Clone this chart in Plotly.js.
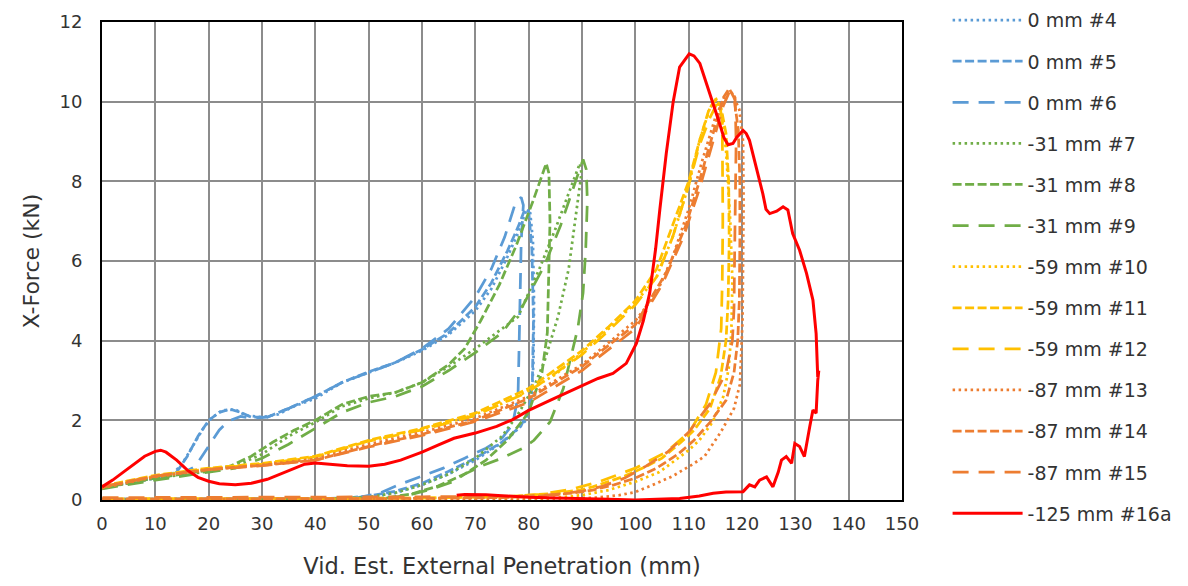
<!DOCTYPE html>
<html>
<head>
<meta charset="utf-8">
<script src="https://cdn.plot.ly/plotly-3.0.1.min.js"></script>
<style>
html,body{margin:0;padding:0;background:#fff;}
#chart{width:1188px;height:586px;}
</style>
</head>
<body>
<div id="chart"></div>
<script>
// ---- data (mm, kN) ----
const names = ["0 mm #4","0 mm #5","0 mm #6","-31 mm #7","-31 mm #8","-31 mm #9",
  "-59 mm #10","-59 mm #11","-59 mm #12","-87 mm #13","-87 mm #14","-87 mm #15","-125 mm #16a"];

const x4 = [0,5,10,13,15,17,19,20.5,22.5,25,27,30,33,36,40,45,50,55,60,65,70,73,76,78,79.5,80.3,80.8,81,80.9,80.6,79.5,77,74,70,65,60,55,50,45,30,0];
const y4 = [0.3,0.42,0.55,0.62,0.9,1.35,1.8,2.05,2.25,2.27,2.12,2.08,2.15,2.35,2.55,2.95,3.2,3.45,3.75,4.15,4.75,5.3,6.1,6.7,7.25,7.2,6.5,5,3.5,2.6,2.0,1.65,1.35,1.0,0.65,0.38,0.18,0.07,0.03,0.01,0];

const x5 = [0,5,10,14,16,18,20,22,24,26,28,31,35,40,45,50,55,60,65,70,73,76,78,79.3,80,80.6,80.9,80.7,80.2,78.5,75,70,65,60,55,50,45,0];
const y5 = [0.32,0.44,0.56,0.7,1.1,1.6,2.0,2.2,2.28,2.2,2.08,2.08,2.3,2.6,2.95,3.22,3.45,3.78,4.2,4.85,5.45,6.25,6.85,7.3,7.25,6.3,4.5,3.0,2.3,1.85,1.45,1.05,0.72,0.42,0.22,0.1,0.04,0.02];

const x6 = [0,5,10,14,17.5,20,22,23.7,26,28,31,35,40,45,50,55,60,65,70,73,75.5,77.5,78.6,79,78.6,78.3,78.2,78,77,75,72,68,64,60,56,52,48,40,0];
const y6 = [0.3,0.42,0.52,0.6,0.84,1.34,1.76,1.98,2.1,2.05,2.08,2.3,2.6,2.95,3.2,3.45,3.8,4.3,5.1,5.8,6.6,7.45,7.6,7.4,6.5,5,3.8,2.6,1.9,1.55,1.3,1.05,0.8,0.6,0.4,0.17,0.06,0.03,0.02];

const x7 = [0,10,20,25,30,35,40,45,50,55,60,65,70,75,78,82,85,87.5,89.6,89.9,89,87.5,85.5,83,81,78,75,70,65,60,55,50,40,0];
const y7 = [0.3,0.55,0.72,0.85,1.15,1.6,1.95,2.35,2.55,2.7,2.95,3.35,3.8,4.3,4.6,5.8,6.8,7.7,8.45,8.2,7.3,5.8,4.6,3.5,2.85,2.15,1.6,1.05,0.65,0.38,0.18,0.07,0.02,0];

const x8 = [0,10,20,24,28,32,36,40,45,50,55,60,65,68,71,74.5,77.7,80.8,83.3,83.8,84,83.8,83.5,82.5,80,76,72,68,63,58,53,45,0];
const y8 = [0.3,0.55,0.75,0.85,1.1,1.45,1.75,2.0,2.4,2.6,2.7,2.95,3.4,3.8,4.5,5.4,6.4,7.5,8.45,8.2,7,5.5,4.2,3.2,2.2,1.5,1.0,0.65,0.35,0.15,0.05,0.02,0];

const x9 = [0,10,20,25,30,35,40,45,50,55,60,65,70,75,79,83,86,88.5,90.2,90.8,91,90.7,90.2,89.2,88.3,86.5,84,81,78.9,75,71.4,68,65.8,62,58,54,45,0];
const y9 = [0.28,0.5,0.7,0.8,1.05,1.4,1.8,2.2,2.45,2.6,2.85,3.25,3.7,4.2,4.9,5.9,6.9,7.9,8.55,8.3,7.5,6.3,5.2,4.3,3.8,2.8,1.96,1.5,1.3,1.05,0.87,0.65,0.46,0.28,0.14,0.05,0.02,0];

const x10 = [0,5,10,15,20,25,30,35,40,45,50,55,60,65,70,75,80,85,90,95,100,104,107,110,112,114,115.2,116,117,117.8,118.2,118,117.5,116.5,114.5,112,110,107,104.5,100,95,90,85,80,60,0];
const y10 = [0.32,0.48,0.6,0.7,0.78,0.84,0.9,0.98,1.08,1.28,1.48,1.62,1.78,1.95,2.15,2.42,2.75,3.15,3.7,4.3,4.95,5.6,6.6,7.9,9.0,9.85,10.05,9.8,8.8,7.0,5.5,4.2,3.3,2.6,1.96,1.5,1.25,0.95,0.7,0.46,0.25,0.12,0.06,0.03,0.02,0.01];

const x11 = [0,10,20,30,40,50,60,70,80,90,95,100,104,107,110,112,113.8,115,116,117,117.5,117.6,117.4,117,116,114,111,108.4,105,102,98,95.8,92,89.6,85,80.2,75,60,45,0];
const y11 = [0.35,0.62,0.8,0.92,1.1,1.5,1.8,2.18,2.8,3.75,4.35,5.0,5.8,6.9,8.0,9.0,9.8,10.05,9.9,9.2,8,6.5,5,4,3.1,2.3,1.75,1.43,1.05,0.84,0.6,0.5,0.33,0.25,0.17,0.12,0.08,0.05,0.03,0.02];

const x12 = [0,10,20,30,40,50,60,70,80,90,95,100,104,107,110,112,114,115.5,116.3,116.4,116.4,116.3,116.1,115.1,113.25,110.1,105.75,100,93.25,88,82,75,60,40,0];
const y12 = [0.33,0.6,0.78,0.9,1.08,1.48,1.76,2.12,2.72,3.65,4.25,4.9,5.6,6.6,7.9,8.9,9.6,10.0,9.6,8.5,7,5.5,4.3,3.2,2.4,1.7,1.2,0.8,0.46,0.27,0.14,0.08,0.05,0.04,0.03];

const x13 = [0,10,20,30,40,50,60,70,80,90,95,100,104,107,110,112.5,115,117,118,119.5,120.2,120.3,120.2,120.1,119.6,118.5,116,113,110.8,107,104,100,97,92.8,85,0];
const y13 = [0.3,0.58,0.76,0.88,1.03,1.4,1.7,2.05,2.6,3.4,3.95,4.5,5.2,6.1,7.3,8.5,9.6,10.2,10.25,9.8,9.0,7.5,6,4.5,2.9,2.3,1.7,1.1,0.9,0.6,0.42,0.2,0.12,0.06,0.03,0.02];

const x14 = [0,10,20,30,40,50,60,70,80,90,93.25,100,105.75,109.5,112,114.5,116.5,117.6,118.5,119.3,119.6,119.6,119.5,119.2,118.5,117,114,111,108,104,100,96,92,88,82,75,60,0];
const y14 = [0.32,0.6,0.77,0.87,1.0,1.35,1.65,2.0,2.55,3.35,3.7,4.4,5.7,6.9,8.0,9.2,10.1,10.33,10.1,9.3,8,6.5,5,4,3.2,2.5,1.95,1.5,1.15,0.8,0.55,0.38,0.25,0.17,0.1,0.06,0.04,0.02];

const x15 = [0,10,20,30,40,50,60,70,80,90,93.25,100,105,109,112,114.5,116.5,117.8,118.7,118.9,118.7,118.6,118.5,118.2,117,113.9,110,106,102,98,94,90,85,80,60,40,20,0];
const y15 = [0.33,0.6,0.76,0.86,1.0,1.33,1.62,1.97,2.45,3.25,3.6,4.3,5.4,6.6,7.8,9.0,9.9,10.3,10.1,9,7.5,6,4.8,4.0,3.2,2.4,1.7,1.2,0.85,0.55,0.35,0.22,0.14,0.1,0.08,0.07,0.07,0.06];

const x16 = [0,2,4,6,8,10,11,12,14,16,18,20,22,25,28,31,34,36,38,40,43,46,50,53,56,60,63,66,70,74,77,80,84,89.6,93,95.8,98.3,100.2,101.5,102.7,103.8,104.6,105.8,107.1,108.3,110.1,111,112.1,113,114,115,115.8,116.6,117.4,118.3,119,120.2,120.8,121.4,122.7,123.9,124.5,125.2,126.5,127.7,128.6,129.5,130.8,132.1,133.3,133.9,134.2,134.4,134.2,133.9,133.3,132.7,131.7,130.8,129.9,129.3,128.3,127.4,126.8,125.8,124.6,123.3,122.4,121.4,120.2,117,114.6,112,108.3,104,100,95,90,85,80,76,72,68,66.5];
const y16 = [0.33,0.5,0.7,0.9,1.1,1.22,1.25,1.2,1.0,0.75,0.57,0.47,0.41,0.38,0.42,0.52,0.68,0.8,0.9,0.93,0.9,0.86,0.85,0.9,1.0,1.2,1.38,1.55,1.68,1.85,2.02,2.25,2.5,2.84,3.05,3.18,3.43,3.93,4.5,5.2,6.3,7.3,8.7,10.0,10.87,11.2,11.15,10.96,10.6,10.2,9.8,9.45,9.1,8.92,8.95,9.1,9.28,9.2,9.03,8.36,7.69,7.3,7.19,7.25,7.36,7.28,6.69,6.27,5.69,5.02,4.18,3.09,3.25,3.0,2.18,2.26,1.84,1.09,1.34,1.42,0.92,1.09,1.0,0.7,0.33,0.58,0.5,0.33,0.38,0.21,0.2,0.17,0.1,0.04,0.02,0.0,0.02,0.03,0.05,0.07,0.1,0.13,0.14,0.12];

const xs = [x4,x5,x6,x7,x8,x9,x10,x11,x12,x13,x14,x15,x16];
const ys = [y4,y5,y6,y7,y8,y9,y10,y11,y12,y13,y14,y15,y16];

// ---- styles ----
const BLUE="#5B9BD5", GREEN="#70AD47", YELLOW="#FFC000", ORANGE="#ED7D31", RED="#FF0000";
const colors = [BLUE,BLUE,BLUE,GREEN,GREEN,GREEN,YELLOW,YELLOW,YELLOW,ORANGE,ORANGE,ORANGE,RED];
const DOT="2.5px,3.5px", DASH="9px,3.5px", LONG="16px,10px";
const dashes = [DOT,DASH,LONG,DOT,DASH,LONG,DOT,DASH,LONG,DOT,DASH,LONG,"solid"];

const traces = names.map((n,i)=>({
  type:"scatter", mode:"lines", name:n, x:xs[i], y:ys[i],
  legendgroup:"g"+i,
  line:{color:colors[i], width: i===12?3:2.75, dash:dashes[i]},
  hoverinfo:"skip"
}));

const FONT = "DejaVu Sans, Liberation Sans, Arial, sans-serif";
const TXT = "#333333";
const layout = {
  width:1188, height:586,
  margin:{l:101.5, r:285.5, t:22, b:86, pad:0, autoexpand:false},
  paper_bgcolor:"#fff", plot_bgcolor:"#fff",
  font:{family:FONT, size:18, color:TXT},
  showlegend:true,
  legend:{x:1.057, xanchor:"left", y:1.0435, yanchor:"top", maxheight:580,
    font:{family:FONT, size:19, color:TXT},
    itemwidth:70, tracegroupgap:13.4, bgcolor:"rgba(0,0,0,0)"},
  xaxis:{range:[0,150], dtick:10, tick0:0, showgrid:true, gridcolor:"#8c8c8c", gridwidth:2,
    zeroline:false, showline:true, mirror:true, linecolor:"#000", linewidth:2,
    ticks:"", ticklabelstandoff:6, tickfont:{family:FONT,size:18,color:TXT},
    title:{text:"Vid. Est. External Penetration (mm)", font:{family:FONT,size:22.5,color:TXT}, standoff:26}},
  yaxis:{range:[0,12], dtick:2, tick0:0, showgrid:true, gridcolor:"#8c8c8c", gridwidth:2,
    zeroline:false, showline:true, mirror:true, linecolor:"#000", linewidth:2,
    ticks:"", ticklabelstandoff:14, tickfont:{family:FONT,size:18,color:TXT},
    title:{text:"X-Force (kN)", font:{family:FONT,size:22,color:TXT}, standoff:14}}
};

Plotly.newPlot("chart", traces, layout, {displayModeBar:false, staticPlot:true});
</script>
</body>
</html>
